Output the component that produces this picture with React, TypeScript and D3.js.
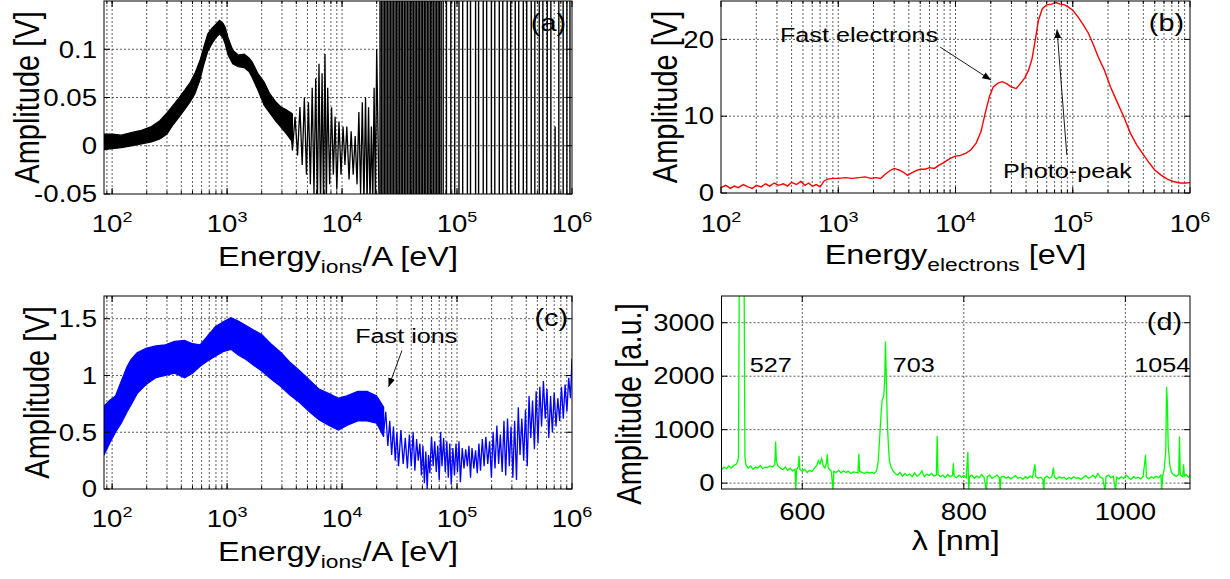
import React from "react";
import * as d3 from "d3";

// ---------- (a) ion signal, black ----------
const aBandE = [85, 100, 120, 150, 180, 220, 260, 300, 340, 383, 430, 480, 525, 580, 630, 680, 740, 800, 860, 920, 960, 1020, 1120, 1250, 1410, 1550, 1650, 1850, 2100, 2350, 2630, 2950, 3300, 3700];
const aBandHi = [0.012, 0.012, 0.011, 0.014, 0.016, 0.02, 0.026, 0.034, 0.042, 0.05, 0.058, 0.066, 0.075, 0.088, 0.103, 0.116, 0.122, 0.126, 0.13, 0.127, 0.123, 0.112, 0.099, 0.094, 0.095, 0.091, 0.087, 0.075, 0.066, 0.054, 0.046, 0.04, 0.037, 0.033];
const aBandLo = [-0.004, -0.003, -0.002, 0.0, 0.002, 0.004, 0.007, 0.012, 0.022, 0.03, 0.038, 0.046, 0.054, 0.068, 0.085, 0.098, 0.106, 0.112, 0.116, 0.112, 0.106, 0.094, 0.085, 0.082, 0.081, 0.077, 0.071, 0.058, 0.042, 0.034, 0.026, 0.019, 0.012, 0.004];
const aNoiseE = [3500, 3700, 3900, 4100, 4300, 4500, 4700, 4900, 5100, 5300, 5500, 5700, 5900, 6100, 6300, 6500, 6700, 6900, 7100, 7300, 7500, 7800, 8100, 8400, 8700, 9000, 9400, 9800, 10200, 10600, 11000, 11500, 12000, 12500, 13000, 13500, 14000, 14500, 15000, 15500, 16000, 16500, 17000, 17500, 18000, 18500, 19000, 19500, 20000, 21000];
const aNoiseV = [0.035, -0.005, 0.03, -0.01, 0.04, -0.02, 0.05, -0.03, 0.045, -0.04, 0.06, -0.05, 0.07, -0.06, 0.085, -0.06, 0.075, -0.06, 0.095, -0.06, 0.06, -0.04, 0.04, -0.03, 0.03, -0.045, 0.025, -0.03, 0.02, -0.02, 0.02, -0.035, 0.015, -0.03, 0.01, -0.04, 0.035, -0.05, 0.045, -0.06, 0.05, -0.06, 0.04, -0.06, 0.02, -0.06, 0.06, -0.06, 0.1, -0.06];
// full-height oscillations above ~2e4 eV
const aSpikeE = [21400, 22000, 22700, 23400, 24100, 24800, 25600, 26400, 27200, 28000, 28900, 29800, 30700, 31700, 32700, 33700, 34800, 35900, 37000, 38200, 39400, 40600, 41900, 43200, 44500, 45900, 47300, 48800, 50300, 51900, 53500, 55200, 56900, 58700, 60500, 62400, 64400, 66400, 68500, 70600, 72800, 75800, 80900, 88300, 95500, 104000, 112000, 123000, 131000, 145000, 154000, 169000, 181000, 199000, 213000, 233000, 250000, 273000, 293000, 321000, 344000, 377000, 404000, 442000, 475000, 519000, 558000, 609000, 655000, 768000, 838000, 903000, 960000];
const aPartialE = [713000];
const aPartialTop = [0.02];

// ---------- (b) electron signal, red ----------
const bE = [100, 110, 120, 130, 140, 155, 170, 185, 200, 220, 240, 260, 285, 310, 340, 370, 400, 440, 480, 520, 560, 600, 650, 700, 760, 820, 900, 1000, 1150, 1300, 1500, 1700, 1900, 2100, 2300, 2500, 2750, 3000, 3300, 3600, 3900, 4200, 4600, 5000, 5500, 6000, 6600, 7200, 8000, 9000, 10000, 11000, 12300, 13500, 15000, 16500, 18000, 19500, 21000, 23000, 25000, 27500, 30000, 33000, 36000, 39000, 42000, 45000, 48000, 51000, 55000, 60000, 66000, 72000, 78000, 85000, 92000, 100000, 110000, 122000, 136000, 150000, 165000, 186000, 210000, 240000, 273000, 310000, 350000, 400000, 450000, 500000, 570000, 640000, 720000, 820000, 920000, 1000000];
const bV = [0.7, 1.0, 0.6, 0.9, 0.7, 1.1, 0.8, 0.6, 1.0, 0.8, 1.2, 0.9, 1.3, 1.0, 1.2, 0.9, 1.4, 1.1, 1.5, 1.0, 1.3, 0.9, 1.1, 0.8, 1.6, 1.8, 1.9, 1.9, 2.0, 1.9, 2.0, 2.1, 1.9, 2.0, 1.9, 2.4, 2.9, 3.2, 3.0, 2.7, 2.3, 2.6, 2.9, 3.1, 3.1, 3.3, 3.2, 3.6, 4.0, 4.5, 4.8, 4.9, 5.2, 5.6, 6.5, 8.0, 10.5, 12.6, 13.8, 14.3, 14.5, 14.2, 13.8, 13.6, 14.3, 15.0, 16.0, 17.5, 20.0, 22.5, 24.0, 24.5, 24.6, 24.8, 24.6, 24.5, 24.2, 23.8, 23.0, 22.0, 20.8, 19.3, 17.7, 16.0, 13.8, 11.8, 9.9, 7.8, 6.3, 5.0, 3.9, 3.0, 2.3, 1.8, 1.5, 1.3, 1.3, 1.35];

// ---------- (c) ion signal, blue ----------
const cBandE = [85, 95, 107, 120, 135, 146, 165, 197, 240, 290, 350, 427, 500, 582, 680, 790, 920, 1080, 1250, 1460, 1700, 2000, 2400, 2950, 3500, 4300, 5200, 6300, 7700, 9300, 11000, 13700, 16500, 20000, 23000];
const cBandHi = [0.73, 0.78, 0.82, 0.95, 1.08, 1.14, 1.2, 1.24, 1.26, 1.27, 1.3, 1.31, 1.28, 1.27, 1.35, 1.43, 1.47, 1.51, 1.48, 1.44, 1.4, 1.36, 1.28, 1.2, 1.12, 1.04, 0.96, 0.88, 0.84, 0.8, 0.82, 0.86, 0.86, 0.82, 0.72];
const cBandLo = [0.3, 0.4, 0.5, 0.58, 0.68, 0.74, 0.84, 0.92, 0.98, 1.0, 1.02, 0.98, 1.02, 1.08, 1.13, 1.17, 1.21, 1.23, 1.18, 1.14, 1.09, 1.04, 0.97, 0.9, 0.83, 0.76, 0.68, 0.61, 0.56, 0.52, 0.56, 0.6, 0.6, 0.58, 0.46];
const cNoiseE = [20000, 21000, 22000, 23000, 24000, 25000, 26000, 27000, 28000, 29000, 30000, 31000, 32500, 34000, 35500, 37000, 38500, 40000, 41500, 43000, 44500, 46000, 47500, 49000, 50500, 52000, 53500, 55000, 56500, 58000, 60000, 62000, 64000, 66000, 68000, 70000, 72000, 74000, 76500, 79000, 81500, 84000, 86500, 89000, 92000, 95000, 98000, 101000, 104000, 107000, 111000, 115000, 119000, 123000, 127000, 131000, 135000, 140000, 145000, 150000, 155000, 160000, 166000, 172000, 178000, 185000, 192000, 199000, 206000, 214000, 222000, 230000, 238000, 247000, 256000, 265000, 275000, 285000, 295000, 306000, 317000, 329000, 341000, 353000, 366000, 380000, 394000, 408000, 423000, 438000, 454000, 471000, 488000, 506000, 525000, 544000, 564000, 585000, 606000, 628000, 651000, 675000, 700000, 726000, 753000, 781000, 810000, 840000, 871000, 903000, 936000, 970000, 1000000];
const cNoiseV = [0.8, 0.6, 0.75, 0.5, 0.68, 0.38, 0.6, 0.3, 0.55, 0.25, 0.5, 0.2, 0.52, 0.22, 0.45, 0.18, 0.48, 0.2, 0.5, 0.16, 0.44, 0.25, 0.4, 0.12, 0.38, 0.05, 0.33, 0.0, 0.3, 0.14, 0.46, 0.2, 0.42, 0.15, 0.38, 0.08, 0.5, 0.2, 0.45, 0.15, 0.42, 0.1, 0.4, 0.04, 0.36, 0.12, 0.4, 0.15, 0.42, 0.06, 0.36, 0.18, 0.35, 0.2, 0.38, 0.1, 0.36, 0.18, 0.34, 0.14, 0.4, 0.16, 0.44, 0.2, 0.46, 0.22, 0.42, 0.1, 0.5, 0.18, 0.56, 0.22, 0.48, 0.15, 0.6, 0.12, 0.62, 0.2, 0.55, 0.1, 0.6, 0.08, 0.72, 0.3, 0.62, 0.25, 0.7, 0.2, 0.82, 0.45, 0.78, 0.35, 0.86, 0.4, 0.9, 0.55, 0.95, 0.62, 0.88, 0.45, 0.82, 0.5, 0.85, 0.55, 0.8, 0.6, 0.9, 0.62, 0.92, 0.68, 0.98, 0.8, 1.15];

// ---------- (d) optical spectrum, green ----------
const dL = [500, 503, 506, 509, 512, 515, 518, 520, 521, 522, 528, 529, 530, 533, 536, 539, 542, 545, 548, 551, 554, 557, 560, 563, 566, 567, 568, 570, 573, 576, 579, 582, 585, 588, 591, 592, 593, 595, 596, 597, 600, 603, 606, 609, 612, 615, 618, 620, 622, 624, 626, 628, 630, 631, 632, 634, 636, 638, 639, 642, 645, 648, 651, 654, 657, 660, 663, 666, 669, 670, 671, 674, 677, 680, 683, 686, 689, 692, 694, 696, 698, 699, 700, 701, 702, 703, 704, 705, 706, 707, 708, 710, 712, 715, 718, 721, 724, 727, 730, 733, 736, 739, 742, 745, 748, 751, 754, 757, 760, 763, 766, 767, 768, 771, 774, 777, 780, 783, 786, 787, 788, 791, 794, 797, 800, 803, 805, 806, 807, 810, 813, 816, 819, 822, 825, 828, 829, 832, 835, 838, 841, 844, 845, 846, 849, 852, 855, 858, 861, 864, 867, 870, 873, 876, 879, 882, 885, 888, 889, 892, 895, 898, 899, 900, 903, 906, 909, 911, 912, 915, 918, 921, 924, 927, 930, 933, 936, 939, 942, 945, 948, 951, 954, 957, 960, 963, 966, 969, 972, 975, 976, 979, 982, 985, 988, 989, 992, 995, 998, 1001, 1004, 1007, 1010, 1013, 1016, 1019, 1022, 1025, 1026, 1029, 1032, 1035, 1038, 1041, 1044, 1045, 1046, 1048, 1050, 1051, 1052, 1053, 1055, 1057, 1060, 1063, 1066, 1067, 1068, 1071, 1072, 1073, 1075, 1078, 1080];
const dV = [250, 300, 270, 320, 280, 330, 350, 400, 500, 3800, 3800, 500, 350, 280, 320, 260, 300, 280, 330, 270, 300, 290, 320, 300, 350, 780, 400, 320, 280, 250, 300, 240, 280, 230, 260, -150, 250, 300, 510, 260, 220, 260, 200, 240, 220, 280, 330, 420, 360, 460, 320, 280, 380, 540, 300, 250, 220, -150, 220, 200, 240, 190, 230, 200, 220, 180, 210, 200, 190, 550, 220, 200, 180, 210, 190, 200, 180, 230, 400, 900, 1400, 1550, 1600, 1650, 1900, 2650, 2000, 1300, 900, 600, 400, 300, 240, 180, 150, 200, 130, 180, 140, 170, 120, 190, 130, 160, 230, 120, 170, 140, 180, 130, 150, 880, 160, 120, 150, 100, 160, 120, 140, 370, 130, 100, 150, 110, 140, 100, 580, -150, 120, 150, 90, 130, 100, 160, 110, -150, 120, 150, 90, 120, 150, 100, -150, 110, 130, 90, 120, 80, 110, 140, 90, 110, 70, 120, 90, 130, 100, 350, 120, 90, 110, 70, -150, 100, 130, 90, 120, 290, 110, 80, 120, 90, 110, 70, 110, 80, 120, 90, 100, 70, 110, 140, 90, 110, 150, 100, 180, 110, 90, -150, 120, 150, 100, 130, -150, 110, 80, 120, 90, 150, 100, 70, 120, 90, 110, 80, 130, 530, 110, 80, 120, 90, 130, 100, 150, -150, 120, 250, 600, 1800, 1500, 700, 350, 200, 150, 130, 160, 870, 150, 120, 350, 130, 160, 110, 150];
const dPeakLabels = ["527", "703", "1054"];
const dPeakAt = [535, 712, 1011];

const SX = 1.2; // the original figure is stretched horizontally
const FONT = '"Liberation Sans", Arial, Helvetica, sans-serif';
const GRID = { stroke: "#333", strokeWidth: 0.8, strokeDasharray: "2,2" };

const A = { l: 104, r: 572, t: 1, b: 194 };
const B = { l: 721, r: 1190, t: 1, b: 193 };
const C = { l: 104, r: 572, t: 296, b: 489 };
const D = { l: 721.5, r: 1190, t: 296, b: 489 };

const xa = d3.scaleLog().domain([85, 1e6]).range([A.l, A.r]);
const ya = d3.scaleLinear().domain([-0.05, 0.15]).range([A.b, A.t]);
const xb = d3.scaleLog().domain([100, 1e6]).range([B.l, B.r]);
const yb = d3.scaleLinear().domain([0, 25]).range([B.b, B.t]);
const xc = d3.scaleLog().domain([85, 1e6]).range([C.l, C.r]);
const yc = d3.scaleLinear().domain([0, 1.7]).range([C.b, C.t]);
const xd = d3.scaleLinear().domain([500, 1080]).range([D.l, D.r]);
const yd = d3.scaleLinear().domain([-110, 3500]).range([D.b, D.t]);

const decades = [1e2, 1e3, 1e4, 1e5, 1e6];

function T({ x, y, size, anchor = "start", rot = false, dy, children }: any) {
  return (
    <text
      transform={`translate(${x},${y}) scale(${SX},1)${rot ? " rotate(-90)" : ""}`}
      fontSize={size}
      textAnchor={anchor}
      dy={dy}
      fontFamily={FONT}
      fill="#000"
    >
      {children}
    </text>
  );
}

function Grid({ box, x, y, xs, ys }: any) {
  return (
    <g>
      {xs.filter((v: number) => x(v) > box.l + 0.5 && x(v) < box.r - 0.5).map((v: number) => (
        <line key={"x" + v} x1={x(v)} x2={x(v)} y1={box.t} y2={box.b} {...GRID} />
      ))}
      {ys.filter((v: number) => y(v) > box.t + 0.5 && y(v) < box.b - 0.5).map((v: number) => (
        <line key={"y" + v} x1={box.l} x2={box.r} y1={y(v)} y2={y(v)} {...GRID} />
      ))}
    </g>
  );
}

function Box({ box, x, y, xMajor, xMinor, ys }: any) {
  return (
    <g stroke="#000" strokeWidth={1}>
      {xMinor.filter((v: number) => x(v) > box.l && x(v) < box.r).map((v: number) => (
        <g key={"m" + v}>
          <line x1={x(v)} x2={x(v)} y1={box.b} y2={box.b - 3} />
          <line x1={x(v)} x2={x(v)} y1={box.t} y2={box.t + 3} />
        </g>
      ))}
      {xMajor.map((v: number) => (
        <g key={"M" + v}>
          <line x1={x(v)} x2={x(v)} y1={box.b} y2={box.b - 6} />
          <line x1={x(v)} x2={x(v)} y1={box.t} y2={box.t + 6} />
        </g>
      ))}
      {ys.map((v: number) => (
        <g key={"Y" + v}>
          <line x1={box.l} x2={box.l + 6} y1={y(v)} y2={y(v)} />
          <line x1={box.r} x2={box.r - 6} y1={y(v)} y2={y(v)} />
        </g>
      ))}
      <rect x={box.l} y={box.t} width={box.r - box.l} height={box.b - box.t} fill="none" />
    </g>
  );
}

function LogTicks({ x, base }: any) {
  return (
    <g>
      {decades.map((v) => (
        <T key={v} x={x(v)} y={base} size={23} anchor="middle">
          10<tspan dy={-10} fontSize={15}>{Math.round(Math.log10(v))}</tspan>
        </T>
      ))}
    </g>
  );
}

function YTicks({ box, y, vals, labels }: any) {
  return (
    <g>
      {vals.map((v: number, i: number) => (
        <T key={v} x={box.l - 7} y={y(v)} size={23} anchor="end" dy="0.36em">{labels[i]}</T>
      ))}
    </g>
  );
}

export default function App() {
  const zip = (xs: number[], ys: number[]) => xs.map((v, i) => [v, ys[i]] as [number, number]);

  const aArea = d3.area<number>().x((i) => xa(aBandE[i])).y0((i) => ya(aBandLo[i])).y1((i) => ya(aBandHi[i]));
  const aLine = d3.line<[number, number]>().x((d) => xa(d[0])).y((d) => ya(d[1]));
  const bLine = d3.line<[number, number]>().x((d) => xb(d[0])).y((d) => yb(d[1]));
  const cArea = d3.area<number>().x((i) => xc(cBandE[i])).y0((i) => yc(cBandLo[i])).y1((i) => yc(cBandHi[i]));
  const cLine = d3.line<[number, number]>().x((d) => xc(d[0])).y((d) => yc(d[1]));
  const dLine = d3.line<[number, number]>().x((d) => xd(d[0])).y((d) => yd(d[1]));

  const aTicksY = [-0.05, 0, 0.05, 0.1];
  const bTicksY = [0, 10, 20];
  const cTicksY = [0, 0.5, 1, 1.5];
  const dTicksY = [0, 1000, 2000, 3000];
  const dTicksX = [600, 800, 1000];

  return (
    <svg width={1230} height={579} style={{ position: "absolute", left: 0, top: 0, background: "#fff" }}>
      <defs>
        <clipPath id="ca"><rect x={A.l} y={A.t} width={A.r - A.l} height={A.b - A.t} /></clipPath>
        <clipPath id="cb"><rect x={B.l} y={B.t} width={B.r - B.l} height={B.b - B.t} /></clipPath>
        <clipPath id="cc"><rect x={C.l} y={C.t} width={C.r - C.l} height={C.b - C.t} /></clipPath>
        <clipPath id="cd"><rect x={D.l} y={D.t} width={D.r - D.l} height={D.b - D.t} /></clipPath>
        <marker id="arr" viewBox="0 0 10 8" refX={10} refY={4} markerWidth={9} markerHeight={7} markerUnits="userSpaceOnUse" orient="auto">
          <path d="M0,0 L10,4 L0,8 Z" fill="#000" />
        </marker>
      </defs>

      {/* (a) */}
      <Grid box={A} x={xa} y={ya} xs={xa.ticks()} ys={aTicksY} />
      <g clipPath="url(#ca)">
        <path d={aArea(d3.range(aBandE.length)) || ""} fill="#000" stroke="#000" strokeWidth={1.2} />
        <path d={aLine(zip(aNoiseE, aNoiseV)) || ""} fill="none" stroke="#000" strokeWidth={1.3} />
        {aSpikeE.map((e) => (
          <line key={e} x1={xa(e)} x2={xa(e)} y1={ya(-0.06)} y2={ya(0.16)} stroke="#000" strokeWidth={1.4} />
        ))}
        {aPartialE.map((e, i) => (
          <line key={"p" + e} x1={xa(e)} x2={xa(e)} y1={ya(-0.06)} y2={ya(aPartialTop[i])} stroke="#000" strokeWidth={1.4} />
        ))}
      </g>
      <Box box={A} x={xa} y={ya} xMajor={decades} xMinor={xa.ticks()} ys={aTicksY} />
      <YTicks box={A} y={ya} vals={aTicksY} labels={["-0.05", "0", "0.05", "0.1"]} />
      <LogTicks x={xa} base={232} />
      <T x={(A.l + A.r) / 2} y={266} size={27} anchor="middle">
        Energy<tspan dy={7} fontSize={19}>ions</tspan><tspan dy={-7}>/A [eV]</tspan>
      </T>
      <T x={26} y={(A.t + A.b) / 2} size={29} anchor="middle" rot dy="0.36em">Amplitude [V]</T>
      <T x={A.r - 6} y={31} size={24} anchor="end">(a)</T>

      {/* (b) */}
      <Grid box={B} x={xb} y={yb} xs={xb.ticks()} ys={bTicksY} />
      <g clipPath="url(#cb)">
        <path d={bLine(zip(bE, bV)) || ""} fill="none" stroke="#ff0000" strokeWidth={1.4} />
      </g>
      <Box box={B} x={xb} y={yb} xMajor={decades} xMinor={xb.ticks()} ys={bTicksY} />
      <YTicks box={B} y={yb} vals={bTicksY} labels={["0", "10", "20"]} />
      <LogTicks x={xb} base={232} />
      <T x={(B.l + B.r) / 2} y={264} size={27} anchor="middle">
        Energy<tspan dy={7} fontSize={19}>electrons</tspan><tspan dy={-7}> [eV]</tspan>
      </T>
      <T x={664} y={(B.t + B.b) / 2} size={29} anchor="middle" rot dy="0.36em">Amplitude [V]</T>
      <T x={B.r - 6} y={31} size={24} anchor="end">(b)</T>
      <T x={xb(318)} y={yb(19.7)} size={21}>Fast electrons</T>
      <line x1={xb(7400)} y1={yb(19.0)} x2={xb(20100)} y2={yb(14.7)} stroke="#000" strokeWidth={0.9} markerEnd="url(#arr)" />
      <T x={xb(25400)} y={yb(1.96)} size={21}>Photo-peak</T>
      <line x1={xb(89000)} y1={yb(4.95)} x2={xb(73400)} y2={yb(21.3)} stroke="#000" strokeWidth={0.9} markerEnd="url(#arr)" />

      {/* (c) */}
      <Grid box={C} x={xc} y={yc} xs={xc.ticks()} ys={cTicksY} />
      <g clipPath="url(#cc)">
        <path d={cArea(d3.range(cBandE.length)) || ""} fill="#0000ff" stroke="#0000ff" strokeWidth={1.2} />
        <path d={cLine(zip(cNoiseE, cNoiseV)) || ""} fill="none" stroke="#0000ff" strokeWidth={1.3} />
      </g>
      <Box box={C} x={xc} y={yc} xMajor={decades} xMinor={xc.ticks()} ys={cTicksY} />
      <YTicks box={C} y={yc} vals={cTicksY} labels={["0", "0.5", "1", "1.5"]} />
      <LogTicks x={xc} base={527} />
      <T x={(C.l + C.r) / 2} y={561} size={27} anchor="middle">
        Energy<tspan dy={7} fontSize={19}>ions</tspan><tspan dy={-7}>/A [eV]</tspan>
      </T>
      <T x={36} y={(C.t + C.b) / 2} size={29} anchor="middle" rot dy="0.36em">Amplitude [V]</T>
      <T x={C.r - 4} y={326} size={24} anchor="end">(c)</T>
      <T x={xc(13000)} y={yc(1.286)} size={21}>Fast ions</T>
      <line x1={xc(33200)} y1={yc(1.22)} x2={xc(25400)} y2={yc(0.9)} stroke="#000" strokeWidth={0.9} markerEnd="url(#arr)" />

      {/* (d) */}
      <Grid box={D} x={xd} y={yd} xs={dTicksX} ys={dTicksY} />
      <g clipPath="url(#cd)">
        <path d={dLine(zip(dL, dV)) || ""} fill="none" stroke="#00ff00" strokeWidth={1.3} />
      </g>
      <Box box={D} x={xd} y={yd} xMajor={dTicksX} xMinor={[]} ys={dTicksY} />
      <YTicks box={D} y={yd} vals={dTicksY} labels={["0", "1000", "2000", "3000"]} />
      {dTicksX.map((v) => (
        <T key={v} x={xd(v)} y={520} size={23} anchor="middle">{v}</T>
      ))}
      <T x={(D.l + D.r) / 2} y={550} size={27} anchor="middle">λ [nm]</T>
      <T x={628} y={404} size={29} anchor="middle" rot dy="0.36em">Amplitude [a.u.]</T>
      <T x={D.r - 8} y={330} size={24} anchor="end">(d)</T>
      {dPeakLabels.map((s, i) => (
        <T key={s} x={xd(dPeakAt[i])} y={yd(2080)} size={21}>{s}</T>
      ))}
    </svg>
  );
}
